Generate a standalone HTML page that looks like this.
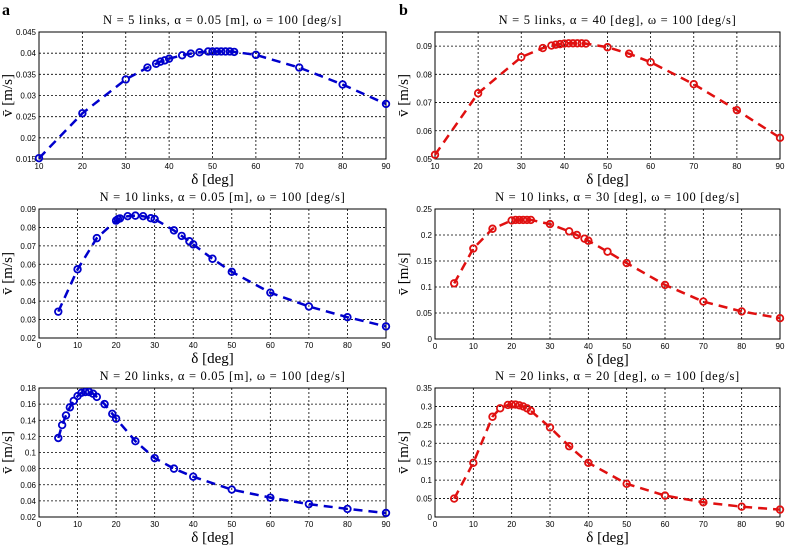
<!DOCTYPE html>
<html><head><meta charset="utf-8"><style>
body{margin:0;background:#fff;}
svg{display:block;font-family:"Liberation Sans",sans-serif;}
.tick{font-size:8px;fill:#000;}
.ttl{font-family:"Liberation Serif",serif;font-size:12.5px;letter-spacing:0.7px;fill:#000;}
.axl{font-family:"Liberation Serif",serif;font-size:15px;fill:#000;}
</style></head><body>
<svg id="fig" width="785" height="545" viewBox="0 0 785 545" xmlns="http://www.w3.org/2000/svg">
<text x="2" y="15" font-family="Liberation Serif,serif" font-weight="bold" font-size="16">a</text>
<text x="399" y="15" font-family="Liberation Serif,serif" font-weight="bold" font-size="16">b</text>
</svg>
<script>
const a1X=[10,20,30,35,37,38,39,40,43,45,47,49,50,51,52,53,54,55,60,70,80,90];
const a1Y=[.0152,.0258,.0338,.0366,.0375,.0380,.0383,.0387,.0395,.0399,.0402,.0404,.0404,.0404,.0404,.0404,.0404,.0403,.0396,.0366,.0326,.0280];
const b1X=[10,20,30,35,37,38,39,40,41,42,43,44,45,50,55,60,70,80,90];
const b1Y=[.0515,.0733,.0861,.0893,.0902,.0905,.0907,.0909,.091,.091,.091,.091,.0909,.0896,.0873,.0843,.0765,.0673,.0575];
const a2X=[5,10,15,20,20.5,21,23,25,27,29,30,35,37,39,40,45,50,60,70,80,90];
const a2Y=[.0343,.0573,.0742,.0837,.0845,.0849,.0861,.0864,.0861,.0850,.0845,.0784,.0754,.0725,.0708,.0630,.0559,.0446,.0371,.0313,.0263];
const b2X=[5,10,15,20,21,22,23,24,25,30,35,37,39,40,45,50,60,70,80,90];
const b2Y=[.107,.174,.212,.228,.229,.229,.229,.229,.229,.221,.207,.200,.193,.189,.168,.146,.104,.072,.053,.040];
const a3X=[5,6,7,8,9,10,11,12,13,14,15,17,19,20,25,30,35,40,50,60,70,80,90];
const a3Y=[.118,.134,.146,.156,.164,.170,.174,.175,.175,.173,.169,.160,.148,.142,.114,.093,.080,.070,.054,.044,.036,.030,.025];
const b3X=[5,10,15,17,19,20,21,22,23,24,25,30,35,40,50,60,70,80,90];
const b3Y=[.05,.147,.272,.295,.304,.305,.305,.303,.300,.295,.288,.243,.192,.147,.090,.058,.040,.028,.020];
const xTicks1=[10,20,30,40,50,60,70,80,90];
const xTicks2=[0,10,20,30,40,50,60,70,80,90];
const yTicksA1=['0.015','0.02','0.025','0.03','0.035','0.04','0.045'];
const yTicksB1=['0.05','0.06','0.07','0.08','0.09'];
const yTicksA2=['0.02','0.03','0.04','0.05','0.06','0.07','0.08','0.09'];
const yTicksB2=['0','0.05','0.1','0.15','0.2','0.25'];
const yTicksA3=['0.02','0.04','0.06','0.08','0.1','0.12','0.14','0.16','0.18'];
const yTicksB3=['0','0.05','0.1','0.15','0.2','0.25','0.3','0.35'];
const titles=['N = 5 links, α = 0.05 [m], ω = 100 [deg/s]','N = 5 links, α = 40 [deg], ω = 100 [deg/s]',
'N = 10 links, α = 0.05 [m], ω = 100 [deg/s]','N = 10 links, α = 30 [deg], ω = 100 [deg/s]',
'N = 20 links, α = 0.05 [m], ω = 100 [deg/s]','N = 20 links, α = 20 [deg], ω = 100 [deg/s]'];
const NS='http://www.w3.org/2000/svg';
const svg=document.getElementById('fig');
function mk(tag,attrs,parent){const e=document.createElementNS(NS,tag);for(const k in attrs)e.setAttribute(k,attrs[k]);(parent||svg).appendChild(e);return e;}
const panels=[
 {id:'a1',L:39,R:386,T:32,B:159,x0:10,x1:90,y0:.015,y1:.045,xs:a1X,ys:a1Y,xt:xTicks1,yt:yTicksA1,col:'#0000cc',title:titles[0]},
 {id:'b1',L:435,R:780,T:32,B:159,x0:10,x1:90,y0:.05,y1:.095,xs:b1X,ys:b1Y,xt:xTicks1,yt:yTicksB1,col:'#e01010',title:titles[1]},
 {id:'a2',L:39,R:386,T:209,B:338,x0:0,x1:90,y0:.02,y1:.09,xs:a2X,ys:a2Y,xt:xTicks2,yt:yTicksA2,col:'#0000cc',title:titles[2]},
 {id:'b2',L:435,R:780,T:209,B:339,x0:0,x1:90,y0:0,y1:.25,xs:b2X,ys:b2Y,xt:xTicks2,yt:yTicksB2,col:'#e01010',title:titles[3]},
 {id:'a3',L:39,R:386,T:388,B:517,x0:0,x1:90,y0:.02,y1:.18,xs:a3X,ys:a3Y,xt:xTicks2,yt:yTicksA3,col:'#0000cc',title:titles[4]},
 {id:'b3',L:435,R:780,T:388,B:517,x0:0,x1:90,y0:0,y1:.35,xs:b3X,ys:b3Y,xt:xTicks2,yt:yTicksB3,col:'#e01010',title:titles[5]}];
panels.forEach(p=>{
 const g=mk('g',{});
 
 
 const sx=v=>p.L+(v-p.x0)/(p.x1-p.x0)*(p.R-p.L);
 const sy=v=>p.B-(v-p.y0)/(p.y1-p.y0)*(p.B-p.T);
 p.xt.forEach(t=>{const X=sx(t);
  const gl=mk('line',{x1:X,x2:X,y1:p.T,y2:p.B,stroke:'#000','stroke-width':0.8,'stroke-dasharray':'2,2'},g);
  
  
  const tx=mk('text',{x:X,y:p.B+10,'text-anchor':'middle',class:'tick'},g);tx.textContent=t;
  
  });
 p.yt.forEach(t=>{const Y=sy(parseFloat(t));
  const gl=mk('line',{x1:p.L,x2:p.R,y1:Y,y2:Y,stroke:'#000','stroke-width':0.8,'stroke-dasharray':'2,2'},g);
  
  
  const tx=mk('text',{x:p.L-3,y:Y+3,'text-anchor':'end',class:'tick'},g);tx.textContent=t;
  
  });
 const fr=mk('rect',{x:p.L,y:p.T,width:p.R-p.L,height:p.B-p.T,fill:'none',stroke:'#000','stroke-width':1},g);
 
 
 const d=p.xs.map((x,i)=>(i?'L':'M')+sx(x).toFixed(1)+','+sy(p.ys[i]).toFixed(1)).join(' ');
 const ln=mk('path',{d:d,fill:'none',stroke:p.col,'stroke-width':2.5,'stroke-dasharray':'9,6'},g);
 
 
 p.xs.forEach((x,i)=>{const c=mk('circle',{cx:sx(x),cy:sy(p.ys[i]),r:3.3,fill:'none',stroke:p.col,'stroke-width':1.8},g);
  
  });
 const tt=mk('text',{x:(p.L+p.R)/2+10,y:p.T-8,'text-anchor':'middle',class:'ttl'},g);tt.textContent=p.title;
 
 
 const xl=mk('text',{x:(p.L+p.R)/2,y:p.B+25,'text-anchor':'middle',class:'axl'},g);xl.textContent='δ [deg]';
 
 
 const yc=(p.T+p.B)/2, yx=p.L-27;
 const yl=mk('text',{x:yx,y:yc,'text-anchor':'middle',class:'axl',transform:'rotate(-90 '+yx+' '+yc+')'},g);yl.textContent='v̄ [m/s]';
 
 
});
</script>
</body></html>
